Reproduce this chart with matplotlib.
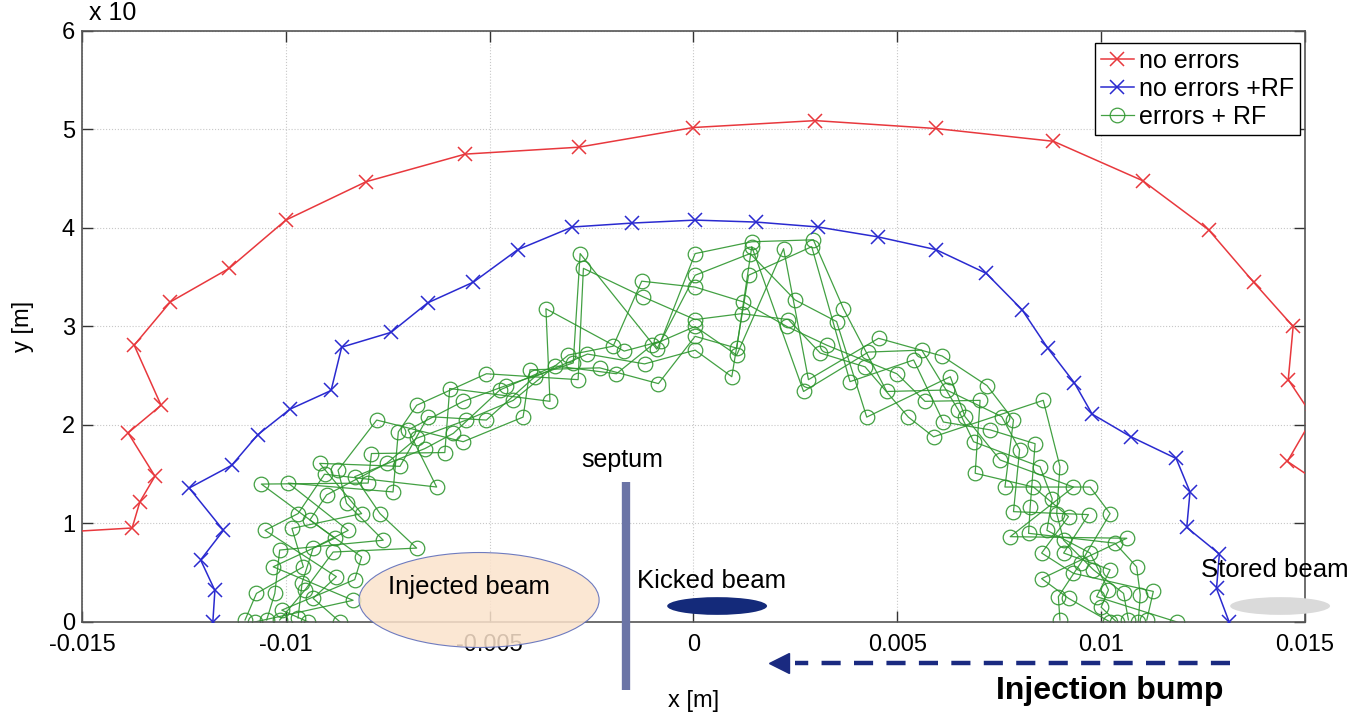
import numpy as np
import matplotlib
matplotlib.use("Agg")
import matplotlib.pyplot as plt
from matplotlib.patches import Ellipse

# ---------------- data (x in m, y in units of 1e-3 m) ----------------
red_x = [-0.0160, -0.01377, -0.01358, -0.01321, -0.01387, -0.01306, -0.01372, -0.01283,
         -0.01139, -0.0100, -0.00803, -0.00560, -0.00282, 0.0, 0.00299, 0.00594,
         0.00883, 0.01102, 0.01264, 0.01374, 0.01471, 0.01459, 0.0152, 0.01457, 0.0160]
red_y = [0.90, 0.954, 1.22, 1.48, 1.92, 2.20, 2.81, 3.25,
         3.59, 4.08, 4.47, 4.75, 4.82, 5.02, 5.09, 5.01,
         4.88, 4.48, 3.98, 3.45, 3.00, 2.46, 2.08, 1.63, 1.23]

blue_x = [-0.01179, -0.01174, -0.01209, -0.01153, -0.01237, -0.01133, -0.01069, -0.0099,
          -0.00889, -0.00863, -0.00742, -0.00652, -0.0054, -0.00431, -0.00297, -0.0015,
          0.00004, 0.00154, 0.00306, 0.00452, 0.00595, 0.00718, 0.00806, 0.00869,
          0.00934, 0.00978, 0.01073, 0.01184, 0.01218, 0.0121, 0.0129, 0.01283, 0.01314]
blue_y = [0.0, 0.32, 0.63, 0.93, 1.36, 1.59, 1.90, 2.16,
          2.35, 2.79, 2.94, 3.24, 3.45, 3.78, 4.01, 4.05,
          4.08, 4.06, 4.01, 3.91, 3.78, 3.54, 3.17, 2.78,
          2.43, 2.11, 1.88, 1.66, 1.32, 0.96, 0.69, 0.34, 0.0]

green_x = [
    -0.00278, -0.00270, -0.00127, -0.00123, -0.00362, -0.00197, -0.00102, -0.00307, -0.00295,
    -0.00189, -0.00283, -0.00086, -0.00401, -0.00508, -0.00389, -0.00352, -0.00475, -0.00442,
    -0.00418, -0.00598, -0.00565, -0.00508, -0.00679, -0.00651, -0.00557, -0.00589, -0.00565,
    -0.00724, -0.00777, -0.00679, -0.00659, -0.00790, -0.00753, -0.00720, -0.00917, -0.00872,
    -0.00831, -0.00798, -0.00737, -0.00630, -0.00994, -0.00900, -0.00851, -0.00814, -0.00769,
    -0.00970, -0.00941, -0.00847, -0.00761, -0.00679, -0.01051, -0.01015, -0.00933, -0.00884,
    -0.00814, -0.01031, -0.00957, -0.00876, -0.00831, -0.01072, -0.01027, -0.00953, -0.00933,
    -0.00835, -0.01100, -0.01076, -0.01047, -0.01015, -0.00970, -0.00945, -0.00867,
    -0.0026, -0.0017, -0.0009, -0.0012, -0.0008,
    -0.01060, -0.00985, -0.00905, -0.00960, -0.01010, -0.00880, -0.00700, -0.00610, -0.00460,
    -0.00340, -0.00230,
    0.00004, 0.00004, 0.00004, 0.00004, 0.00004, 0.00004, 0.00004,
    0.00143, 0.00143, 0.00139, 0.00135, 0.00122, 0.00118, 0.00106, 0.00106, 0.00094,
    0.00294, 0.00290, 0.00221, 0.00249, 0.00233, 0.00229, 0.00327, 0.00311, 0.00282, 0.00270,
    0.00368, 0.00351, 0.00454, 0.00429, 0.00421, 0.00384, 0.00425, 0.00474, 0.00499, 0.00527,
    0.00560, 0.00540, 0.00568, 0.00589, 0.00630, 0.00621, 0.00613, 0.00650, 0.00666, 0.00687,
    0.00703, 0.00728, 0.00756, 0.00785, 0.00858, 0.00838, 0.00691, 0.00752, 0.00764, 0.00785,
    0.00826, 0.00850, 0.00899, 0.00834, 0.00932, 0.00973, 0.00867, 0.00777, 0.00822, 0.00891,
    0.00920, 0.00969, 0.01022, 0.01063, 0.00908, 0.00854, 0.00908, 0.00973, 0.01034, 0.00854,
    0.00932, 0.00981, 0.01022, 0.01087, 0.00895, 0.00920, 0.00989, 0.01018, 0.01055, 0.01096,
    0.01128, 0.00899, 0.01022, 0.01038, 0.01067, 0.01091, 0.01112, 0.01186,
    0.00800, 0.00880, 0.00950, 0.01000, 0.00720, 0.00610]
green_y = [
    3.74, 3.59, 3.46, 3.30, 3.18, 2.80, 2.81, 2.71, 2.63,
    2.52, 2.46, 2.42, 2.56, 2.52, 2.49, 2.24, 2.355, 2.25,
    2.08, 2.37, 2.24, 2.05, 2.20, 2.085, 2.05, 1.915, 1.83,
    1.93, 2.05, 1.865, 1.76, 1.71, 1.61, 1.58, 1.61, 1.54,
    1.475, 1.41, 1.32, 1.37, 1.41, 1.29, 1.205, 1.10, 1.10,
    1.10, 1.035, 0.93, 0.83, 0.75, 0.93, 0.73, 0.75, 0.71,
    0.66, 0.56, 0.56, 0.46, 0.43, 0.29, 0.29, 0.325, 0.24,
    0.22, 0.02, 0.0, 0.02, 0.02, 0.04, 0.0, 0.0,
    2.72, 2.75, 2.77, 2.62, 2.85,
    1.40, 0.95, 1.50, 0.40, 0.12, 0.85, 1.95, 1.72, 2.40,
    2.60, 2.58,
    3.74, 3.52, 3.40, 3.07, 3.00, 2.90, 2.76,
    3.86, 3.81, 3.74, 3.52, 3.25, 3.13, 2.78, 2.71, 2.49,
    3.88, 3.81, 3.79, 3.27, 3.07, 3.00, 2.81, 2.73, 2.46, 2.34,
    3.18, 3.05, 2.88, 2.74, 2.59, 2.44, 2.08, 2.34, 2.52, 2.08,
    2.76, 2.66, 2.24, 1.88, 2.49, 2.355, 2.03, 2.15, 2.085, 1.83,
    2.25, 1.95, 2.085, 2.05, 2.25, 1.81, 1.51, 1.645, 1.37, 1.12,
    1.17, 1.577, 1.577, 1.37, 1.37, 1.37, 0.93, 0.866, 0.90, 1.10,
    1.07, 1.09, 1.10, 0.85, 0.83, 0.70, 0.70, 0.70, 0.80, 0.44,
    0.494, 0.53, 0.53, 0.56, 0.257, 0.24, 0.257, 0.325, 0.29, 0.275,
    0.31, 0.02, 0.0, 0.0, 0.02, 0.0, 0.02, 0.0,
    1.75, 1.25, 0.60, 0.15, 2.40, 2.70]

x_ticks = [-0.015, -0.01, -0.005, 0, 0.005, 0.01, 0.015]
x_tick_labels = ["-0.015", "-0.01", "-0.005", "0", "0.005", "0.01", "0.015"]
y_ticks = [0, 1, 2, 3, 4, 5, 6]
legend_labels = ["no errors", "no errors +RF", "errors + RF"]

# ---------------- figure ----------------
NARROW = ["Liberation Sans Narrow", "Liberation Sans", "DejaVu Sans"]
ARIAL = ["Liberation Sans", "DejaVu Sans"]
plt.rcParams["font.family"] = NARROW

fig = plt.figure(figsize=(13.53, 7.14), dpi=100)
ax = fig.add_axes([0.0606, 0.1289, 0.9039, 0.8277])

RED = "#e8383d"
BLUE = "#2a2ad0"
GREEN = "#2e962e"

ax.plot(red_x, red_y, color=RED, lw=1.1, marker="x", ms=10, mew=1.1, label=legend_labels[0], zorder=3)
ax.plot(blue_x, blue_y, color=BLUE, lw=1.1, marker="x", ms=10, mew=1.1, label=legend_labels[1], zorder=3)

gx = np.array(green_x)
gy = np.array(green_y)
order = np.argsort(np.arctan2(gy / 3.3, -(gx - 0.0005) / 0.0108))
gxs, gys = gx[order], gy[order]
nseeds = 7
for k in range(nseeds):
    ax.plot(gxs[k::nseeds], gys[k::nseeds], color=GREEN, lw=0.9, marker="o", ms=10.5,
            mfc="none", mew=0.9, alpha=0.9, label=legend_labels[2] if k == 0 else None, zorder=2)

ax.set_xlim(-0.015, 0.015)
ax.set_ylim(0, 6)
ax.set_xticks(x_ticks)
ax.set_xticklabels(x_tick_labels)
ax.set_yticks(y_ticks)
ax.tick_params(direction="in", length=8, width=1, top=True, right=True,
               labelsize=17, colors="#333333", labelcolor="black")
ax.tick_params(axis="x", pad=9)
ax.tick_params(axis="y", pad=5)
ax.grid(True, color="#c8c8c8", lw=0.8, ls=":")
for s in ax.spines.values():
    s.set_color("#555555")
    s.set_linewidth(1.2)

ax.set_xlabel("x [m]", fontsize=17, labelpad=24, family=NARROW)
ax.set_ylabel("y [m]", fontsize=17, labelpad=20, family=NARROW)
fig.text(0.066, 0.972, "x 10", fontsize=18, ha="left", va="baseline", family=NARROW)

leg = ax.legend(loc="upper right", bbox_to_anchor=(0.9959, 0.9797), fontsize=18,
                handlelength=1.3, handletextpad=0.2, borderpad=0.25, labelspacing=0.15,
                fancybox=False, framealpha=1, edgecolor="black", borderaxespad=0)
leg.get_frame().set_linewidth(1.0)

# ---------------- annotations ----------------
# Injected beam
ax.add_patch(Ellipse((-0.00526, 0.223), 0.00589, 0.964, facecolor="#fbe3cc", edgecolor="#5566b8",
                     lw=0.8, alpha=0.85, clip_on=False, zorder=4))
ax.text(-0.0055, 0.35, "Injected beam", fontsize=18.5, ha="center", va="center", family=ARIAL, zorder=5)

# septum
ax.plot([-0.00166, -0.00166], [1.42, -0.69], color="#6b74a6", lw=6, solid_capstyle="butt",
        clip_on=False, zorder=5)
ax.text(-0.00175, 1.64, "septum", fontsize=18, ha="center", va="center", family=ARIAL)

# Kicked beam
ax.add_patch(Ellipse((0.00058, 0.162), 0.00245, 0.18, facecolor="#142a7a", edgecolor="none",
                     clip_on=False, zorder=4))
ax.text(0.00045, 0.42, "Kicked beam", fontsize=18.5, ha="center", va="center", family=ARIAL, zorder=5)

# Stored beam
ax.add_patch(Ellipse((0.01439, 0.162), 0.00245, 0.18, facecolor="#dadada", edgecolor="none",
                     clip_on=False, zorder=4))
ax.text(0.01425, 0.53, "Stored beam", fontsize=18.5, ha="center", va="center", family=ARIAL,
        clip_on=False, zorder=5)

# Injection bump arrow
ax.plot([0.01316, 0.0025], [-0.42, -0.42], color="#1a2a80", lw=3.2, dashes=(4.3, 3.0),
        clip_on=False, zorder=5)
ax.plot([0.0021], [-0.42], marker="<", ms=14, color="#1a2a80", mec="#1a2a80", clip_on=False, zorder=5)
ax.text(0.01022, -0.70, "Injection bump", fontsize=23, fontweight="bold", ha="center", va="center",
        family=ARIAL)

fig.savefig("out.png", dpi=100)
